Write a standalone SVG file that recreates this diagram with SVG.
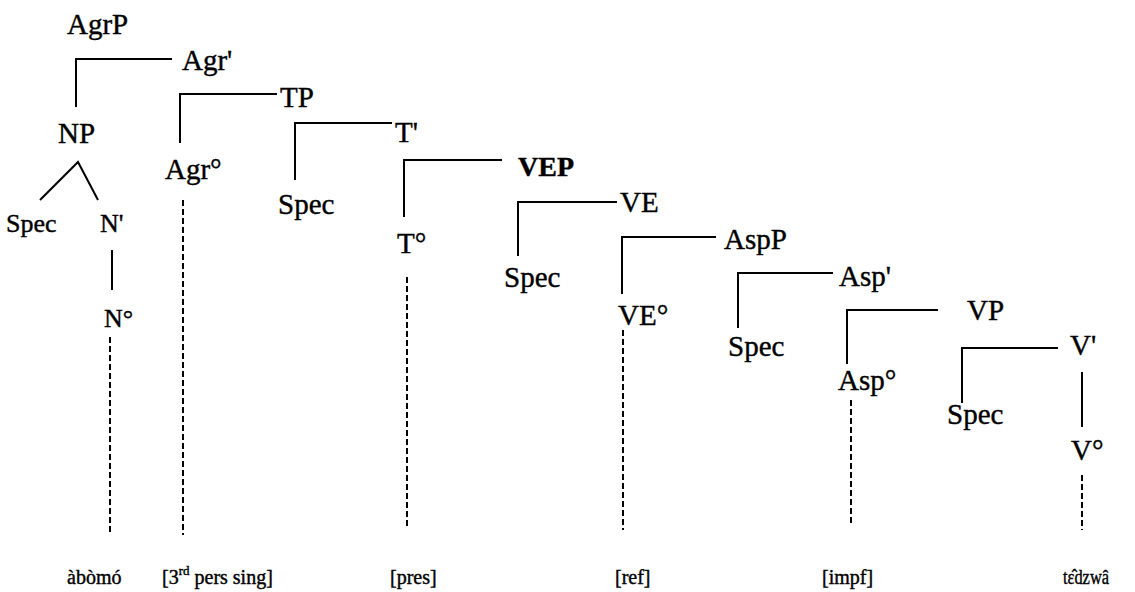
<svg xmlns="http://www.w3.org/2000/svg" width="1135" height="592" viewBox="0 0 1135 592">
<style>
text{font-family:"Liberation Serif","Tinos","Times New Roman","DejaVu Serif","Noto Serif",serif;fill:#000;stroke:#000;stroke-width:0.4}
.t{font-size:29px}
.s{font-size:26px}
.b{font-size:28px;font-weight:bold}
.w{font-size:20px}
.l{stroke:#000;stroke-width:2;fill:none}
.d{stroke:#000;stroke-width:2;fill:none;stroke-dasharray:6 3}
</style>
<rect width="1135" height="592" fill="#fff"/>
<g id="connectors">
<polyline class="l" points="76,107 76,59 172,59"/>
<polyline class="l" points="180,143 180,94 277,94"/>
<polyline class="l" points="295,180 295,123 392,123"/>
<polyline class="l" points="404,217 404,160 502,160"/>
<polyline class="l" points="518,256 518,202 617,202"/>
<polyline class="l" points="622,294 622,237 716,237"/>
<polyline class="l" points="738,328 738,273 833,273"/>
<polyline class="l" points="847,364 847,310 938,310"/>
<polyline class="l" points="962,403 962,348 1058,348"/>
<polyline class="l" points="40,200 78,162 98,200"/>
<line class="l" x1="112" y1="250" x2="112" y2="290"/>
<line class="l" x1="1082" y1="372" x2="1082" y2="427"/>
<line class="d" x1="110" y1="337" x2="110" y2="535"/>
<line class="d" x1="183" y1="200" x2="183" y2="535"/>
<line class="d" x1="407" y1="277" x2="407" y2="528"/>
<line class="d" x1="623" y1="330" x2="623" y2="530"/>
<line class="d" x1="851" y1="400" x2="851" y2="526"/>
<line class="d" x1="1082" y1="475" x2="1082" y2="530"/>
</g>
<g id="AgrP"><text class="t" x="67" y="34">AgrP</text></g>
<g id="AgrBar"><text class="t" x="182" y="70">Agr'</text></g>
<g id="NP"><text class="t" x="58" y="143">NP</text></g>
<g id="TP"><text class="t" x="280" y="107">TP</text></g>
<g id="Agr0"><text class="t" x="165" y="179">Agr°</text></g>
<g id="TBar"><text class="t" x="395" y="142">T'</text></g>
<g id="SpecTP"><text class="t" x="278" y="214">Spec</text></g>
<g id="VEP"><text class="b" x="518" y="176">VEP</text></g>
<g id="SpecNP"><text class="s" x="6" y="232">Spec</text></g>
<g id="NBar"><text class="s" x="100" y="232">N'</text></g>
<g id="VE"><text class="t" x="620" y="212">VE</text></g>
<g id="T0"><text class="t" x="397" y="253">T°</text></g>
<g id="AspP"><text class="t" x="724" y="249">AspP</text></g>
<g id="SpecVEP"><text class="t" x="504" y="287">Spec</text></g>
<g id="AspBar"><text class="t" x="839" y="286">Asp'</text></g>
<g id="VE0"><text class="t" x="618" y="325">VE°</text></g>
<g id="N0"><text class="s" x="104" y="327">N°</text></g>
<g id="VP"><text class="t" x="967" y="320">VP</text></g>
<g id="SpecAspP"><text class="t" x="728" y="356">Spec</text></g>
<g id="VBar"><text class="t" x="1070" y="355">V'</text></g>
<g id="Asp0"><text class="t" x="838" y="390">Asp°</text></g>
<g id="SpecVP"><text class="t" x="947" y="424">Spec</text></g>
<g id="V0"><text class="t" x="1071" y="460">V°</text></g>
<g id="w1"><text class="w" x="67" y="584">àbòmó</text></g>
<g id="w2"><text class="w" x="162" y="584" font-size="21">[3<tspan font-size="13" dy="-9">rd</tspan><tspan dy="9">  pers sing]</tspan></text></g>
<g id="w3"><text class="w" x="390" y="584">[pres]</text></g>
<g id="w4"><text class="w" x="615" y="584">[ref]</text></g>
<g id="w5"><text class="w" x="822" y="584">[impf]</text></g>
<g id="w6"><text class="w" x="1063" y="584" textLength="46" lengthAdjust="spacingAndGlyphs">tɛ̂dzwâ</text></g>
</svg>
